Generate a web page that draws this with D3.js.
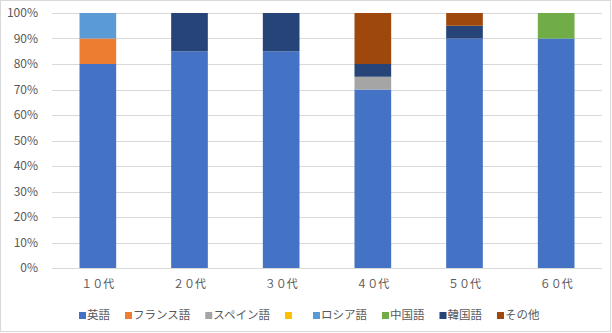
<!DOCTYPE html>
<html><head><meta charset="utf-8">
<script src="https://cdn.jsdelivr.net/npm/d3@7"></script>
<style>
html,body{margin:0;padding:0;background:#fff;}
svg{display:block;font-family:"Noto Sans CJK JP","Noto Sans",sans-serif;}
</style></head>
<body>
<svg id="chart" width="612" height="333"></svg>
<script>
const categories = ["１０代","２０代","３０代","４０代","５０代","６０代"];
const seriesNames = ["英語","フランス語","スペイン語","","ロシア語","中国語","韓国語","その他"];
const seriesColors = ["#4472C4","#ED7D31","#A5A5A5","#FFC000","#5B9BD5","#70AD47","#264478","#9E480E"];
const english  = [80,85,85,70,90,90];
const french   = [10, 0, 0, 0, 0, 0];
const spanish  = [ 0, 0, 0, 5, 0, 0];
const blank    = [ 0, 0, 0, 0, 0, 0];
const russian  = [10, 0, 0, 0, 0, 0];
const chinese  = [ 0, 0, 0, 0, 0,10];
const korean   = [ 0,15,15, 5, 5, 0];
const other    = [ 0, 0, 0,20, 5, 0];
const yTicks = [0,10,20,30,40,50,60,70,80,90,100];

const seriesValues = [english,french,spanish,blank,russian,chinese,korean,other];
const table = categories.map((c,i)=>{
  const row = {cat:c};
  seriesValues.forEach((v,k)=>row["s"+k]=v[i]);
  return row;
});
const keys = seriesValues.map((_,k)=>"s"+k);

const svg = d3.select("#chart");
const margin = {left:52, right:10, top:13, bottom:65};

svg.append("rect").attr("x",0.5).attr("y",0.5).attr("width",610).attr("height",331)
  .attr("fill","#fff").attr("stroke","#d9d9d9").attr("stroke-width",1);

const x = d3.scaleBand().domain(categories).range([margin.left, 602]).paddingInner(0.6).paddingOuter(0.3);
const y = d3.scaleLinear().domain([0,100]).range([268, 13]);

// gridlines
svg.append("g").selectAll("line").data(yTicks).join("line")
  .attr("x1",margin.left).attr("x2",602)
  .attr("y1",d=>Math.round(y(d))+0.5).attr("y2",d=>Math.round(y(d))+0.5)
  .attr("stroke","#d9d9d9").attr("stroke-width",1);

// y labels
const yAxis = d3.axisLeft(y).tickValues(yTicks).tickFormat(d=>d+"%").tickSize(0).tickPadding(0);
const gy = svg.append("g").attr("transform","translate(38,0)").call(yAxis);
gy.select(".domain").remove();
gy.selectAll("text").attr("font-size",12).attr("fill","#595959")
  .attr("font-family","'Noto Sans CJK JP',sans-serif");

// stacked bars
const stack = d3.stack().keys(keys)(table);
svg.append("g").selectAll("g").data(stack).join("g")
  .attr("fill",(d,i)=>seriesColors[i])
  .selectAll("rect").data(d=>d.filter(s=>s[1]-s[0]>0)).join("rect")
  .attr("x",d=>x(d.data.cat)).attr("width",x.bandwidth())
  .attr("y",d=>y(d[1])).attr("height",d=>y(d[0])-y(d[1]));

// x labels
const xAxis = d3.axisBottom(x).tickSize(0).tickPadding(0);
const gx = svg.append("g").attr("transform","translate(0,280)").call(xAxis);
gx.select(".domain").remove();
gx.selectAll("text").attr("font-size",11).attr("fill","#595959")
  .attr("font-family","'Noto Sans CJK JP',sans-serif");

// legend
const leg = svg.append("g");
let cx = 0;
seriesNames.forEach((n,i)=>{
  const g = leg.append("g");
  g.append("rect").attr("x",0).attr("y",-3).attr("width",7).attr("height",7).attr("fill",seriesColors[i]);
  const t = g.append("text").attr("x",8).attr("y",0).attr("dy","0.35em")
    .attr("font-size",11.5).attr("fill","#595959").text(n);
  const w = n ? t.node().getComputedTextLength() : 5;
  g.attr("transform",`translate(${cx},315)`);
  cx += 8 + w + 15;
});
const total = cx - 15;
leg.attr("transform",`translate(${Math.round(309 - total/2)},0)`);
</script>
</body></html>
